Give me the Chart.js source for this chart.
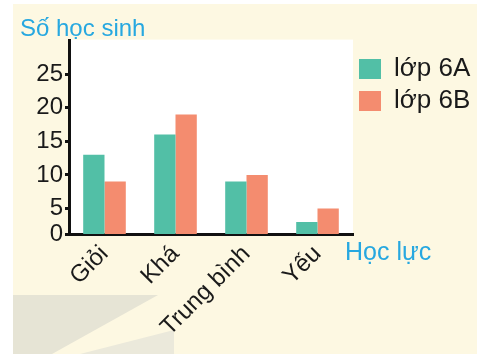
<!DOCTYPE html>
<html>
<head>
<meta charset="utf-8">
<script src="https://cdn.jsdelivr.net/npm/chart.js@4"></script>
<style>
  html, body { margin: 0; padding: 0; background: #fff; }
  #wrap { width: 477px; height: 354px; }
</style>
</head>
<body>
<div id="wrap"><canvas id="hocLucChart" width="477" height="354"></canvas></div>
<script>
// Số liệu
const categories = ['Giỏi', 'Khá', 'Trung bình', 'Yếu'];
const lop6A = [13, 16, 9, 3];
const lop6B = [9, 19, 10, 5];
const yTicks = [5, 10, 15, 20, 25];
// trục ngang của hình gốc cắt ngang ở khoảng 1,2 (nhãn vẫn ghi 0)
const yAxisBase = 1.2;
const yAxisTop = 30;

const FONT = '"Liberation Sans", Arial, sans-serif';

// nền kem, vùng xám trang trí, nền trắng vùng vẽ, tên trục ngang
const decor = {
    id: 'decor',
    afterLayout(chart) {
        // chú giải rộng hơn mức Chart.js cho phép, kéo hộp tới mép phải
        const lg = chart.legend;
        if (lg) {
            lg.right = chart.width;
            lg.width = lg.right - lg.left;
        }
    },
    beforeDraw(chart) {
        const ctx = chart.ctx;
        const a = chart.chartArea;
        ctx.save();
        ctx.fillStyle = '#ffffff';
        ctx.fillRect(0, 0, chart.width, chart.height);
        ctx.fillStyle = '#fdf8e2';
        ctx.fillRect(13, 4, chart.width - 13, chart.height - 4);
        ctx.fillStyle = '#e6e4d5';
        ctx.beginPath();
        ctx.moveTo(13, 295); ctx.lineTo(158, 295); ctx.lineTo(52, 354); ctx.lineTo(13, 354);
        ctx.closePath(); ctx.fill();
        ctx.fillStyle = '#ebe9db';
        ctx.beginPath();
        ctx.moveTo(174, 330); ctx.lineTo(174, 354); ctx.lineTo(80, 354);
        ctx.closePath(); ctx.fill();
        ctx.fillStyle = '#ffffff';
        ctx.fillRect(a.left, a.top - 1, a.right - a.left, a.bottom - a.top + 1);
        ctx.restore();
    },
    afterDraw(chart) {
        const ctx = chart.ctx;
        const x = chart.scales.x;
        ctx.save();
        ctx.fillStyle = '#27a8e0';
        ctx.font = '25px ' + FONT;
        ctx.textBaseline = 'middle';
        ctx.textAlign = 'left';
        ctx.fillText('Học lực', x.right - 8, x.top + 19);
        ctx.restore();
    }
};

const ctx = document.getElementById('hocLucChart').getContext('2d');
new Chart(ctx, {
    type: 'bar',
    data: {
        labels: categories,
        datasets: [{
            label: 'lớp 6A',
            data: lop6A,
            backgroundColor: '#52bfa6',
            categoryPercentage: 0.6,
            barPercentage: 1.0
        }, {
            label: 'lớp 6B',
            data: lop6B,
            backgroundColor: '#f48c6f',
            categoryPercentage: 0.6,
            barPercentage: 1.0
        }]
    },
    options: {
        responsive: false,
        animation: false,
        devicePixelRatio: 1,
        layout: { padding: { top: 4, left: 20, right: 13, bottom: 20 } },
        plugins: {
            tooltip: { enabled: false },
            title: {
                display: true,
                text: 'Số học sinh',
                align: 'start',
                color: '#27a8e0',
                font: { family: FONT, size: 24, weight: 'normal', lineHeight: 0.9 },
                padding: { top: 15, bottom: 0 }
            },
            legend: {
                position: 'right',
                align: 'start',
                title: {
                    display: true,
                    text: ' ',
                    font: { size: 10 },
                    padding: { top: 0, bottom: 34 }
                },
                labels: {
                    boxWidth: 22,
                    boxHeight: 20,
                    padding: 6,
                    color: '#1a1a1a',
                    font: { family: FONT, size: 26 }
                }
            }
        },
        scales: {
            x: {
                grid: { display: false, drawTicks: false },
                border: { display: true, color: '#111', width: 3 },
                ticks: {
                    color: '#1a1a1a',
                    font: { family: FONT, size: 24 },
                    minRotation: 45,
                    maxRotation: 45,
                    padding: 6
                },
                afterFit(scale) { scale.height = 100; }
            },
            y: {
                min: yAxisBase,
                max: yAxisTop,
                grid: { drawOnChartArea: false, color: '#111', tickLength: 4, lineWidth: 3 },
                border: { display: true, color: '#111', width: 3 },
                ticks: {
                    color: '#1a1a1a',
                    font: { family: FONT, size: 24 },
                    padding: 2,
                    callback: v => (v === yAxisBase ? '0' : String(v))
                },
                afterBuildTicks(scale) {
                    scale.ticks = [yAxisBase].concat(yTicks).map(v => ({ value: v }));
                },
                afterFit(scale) { scale.width = 49; }
            }
        }
    },
    plugins: [decor]
});
</script>
</body>
</html>
